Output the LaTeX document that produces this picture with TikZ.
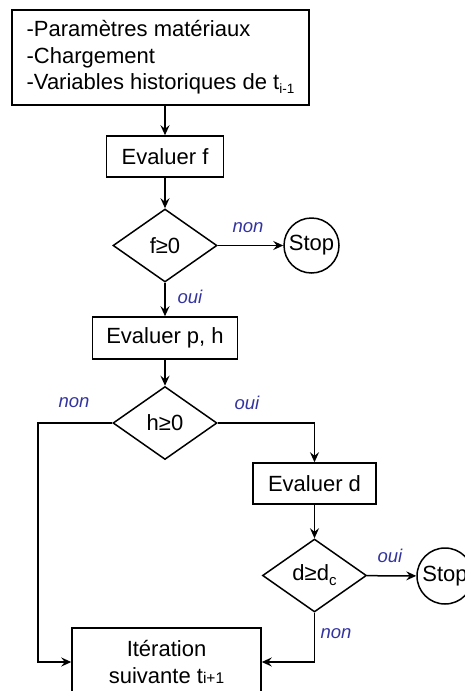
\documentclass[tikz,border=0pt]{standalone}
\usepackage{fontspec}
\setmainfont{Liberation Sans}
\usetikzlibrary{shapes.geometric,arrows.meta}
\definecolor{lblblue}{RGB}{51,51,160}
\tikzset{
  box/.style={draw, line width=1.5pt, rectangle, inner sep=0pt, font=\fontsize{22}{26.5}\selectfont},
  cond/.style={draw, line width=1.5pt, diamond, inner sep=0pt, minimum width=104pt, minimum height=73pt, font=\fontsize{22}{26}\selectfont},
  stopc/.style={draw, line width=1.5pt, circle, inner sep=0pt, minimum size=55pt, font=\fontsize{22}{26}\selectfont},
  conn/.style={line width=1.5pt, -{Stealth[length=10pt,width=9pt,inset=3.5pt]}},
  lbl/.style={text=lblblue, font=\fontsize{18.5}{20}\selectfont\itshape, inner sep=0pt}
}
\begin{document}
\begin{tikzpicture}[x=1pt,y=-1pt]
\useasboundingbox (0,0) rectangle (465,691);
\clip (0,0) rectangle (465,691);
\node[box, minimum width=297pt, minimum height=95pt, align=left] (top) at (160.5,57.5)
  {-Paramètres matériaux\\-Chargement\\-Variables historiques de t\raisebox{-4pt}{\fontsize{13.5}{13.5}\selectfont i-1}};
\node[box, minimum width=117pt, minimum height=41pt] (ef) at (165,156.5) {Evaluer f};
\node[cond] (f) at (165,245.5) {f≥0};
\node[stopc] (s1) at (311.5,245.5) {Stop};
\node[box, minimum width=145pt, minimum height=42pt] (ph) at (165,338) {Evaluer p, h};
\node[cond] (h) at (165,423) {h≥0};
\node[box, minimum width=123pt, minimum height=41pt] (ed) at (314.5,483.5) {Evaluer d};
\node[cond] (d) at (314.5,575.5) {d≥d\raisebox{-5pt}{\fontsize{15}{15}\selectfont c}};
\node[stopc, minimum size=56pt] (s2) at (445,576) {Stop};
\node[box, minimum width=189pt, minimum height=68pt, align=center] (it) at (166.5,662)
  {Itération\\suivante t{\fontsize{15.5}{15.5}\selectfont i+1}};
\coordinate (hl) at (38,423);
\draw[conn] (ef.north |- top.south) -- (ef.north);
\draw[conn] (ef) -- (f);
\draw[conn] (f) -- (s1);
\draw[conn] (f) -- (ph);
\draw[conn] (ph) -- (h);
\draw[conn] (h.west) -- (hl) |- (it.west);
\draw[conn] (h.east) -| (ed.north);
\draw[conn] (ed) -- (d);
\draw[conn] (d) -- (s2);
\draw[conn] (d.south) |- (it.east);
\node[lbl] at (248,228) {non};
\node[lbl] at (190,297) {oui};
\node[lbl] at (74,403) {non};
\node[lbl] at (247,403) {oui};
\node[lbl] at (390,556) {oui};
\node[lbl] at (336,634) {non};
\end{tikzpicture}
\end{document}
